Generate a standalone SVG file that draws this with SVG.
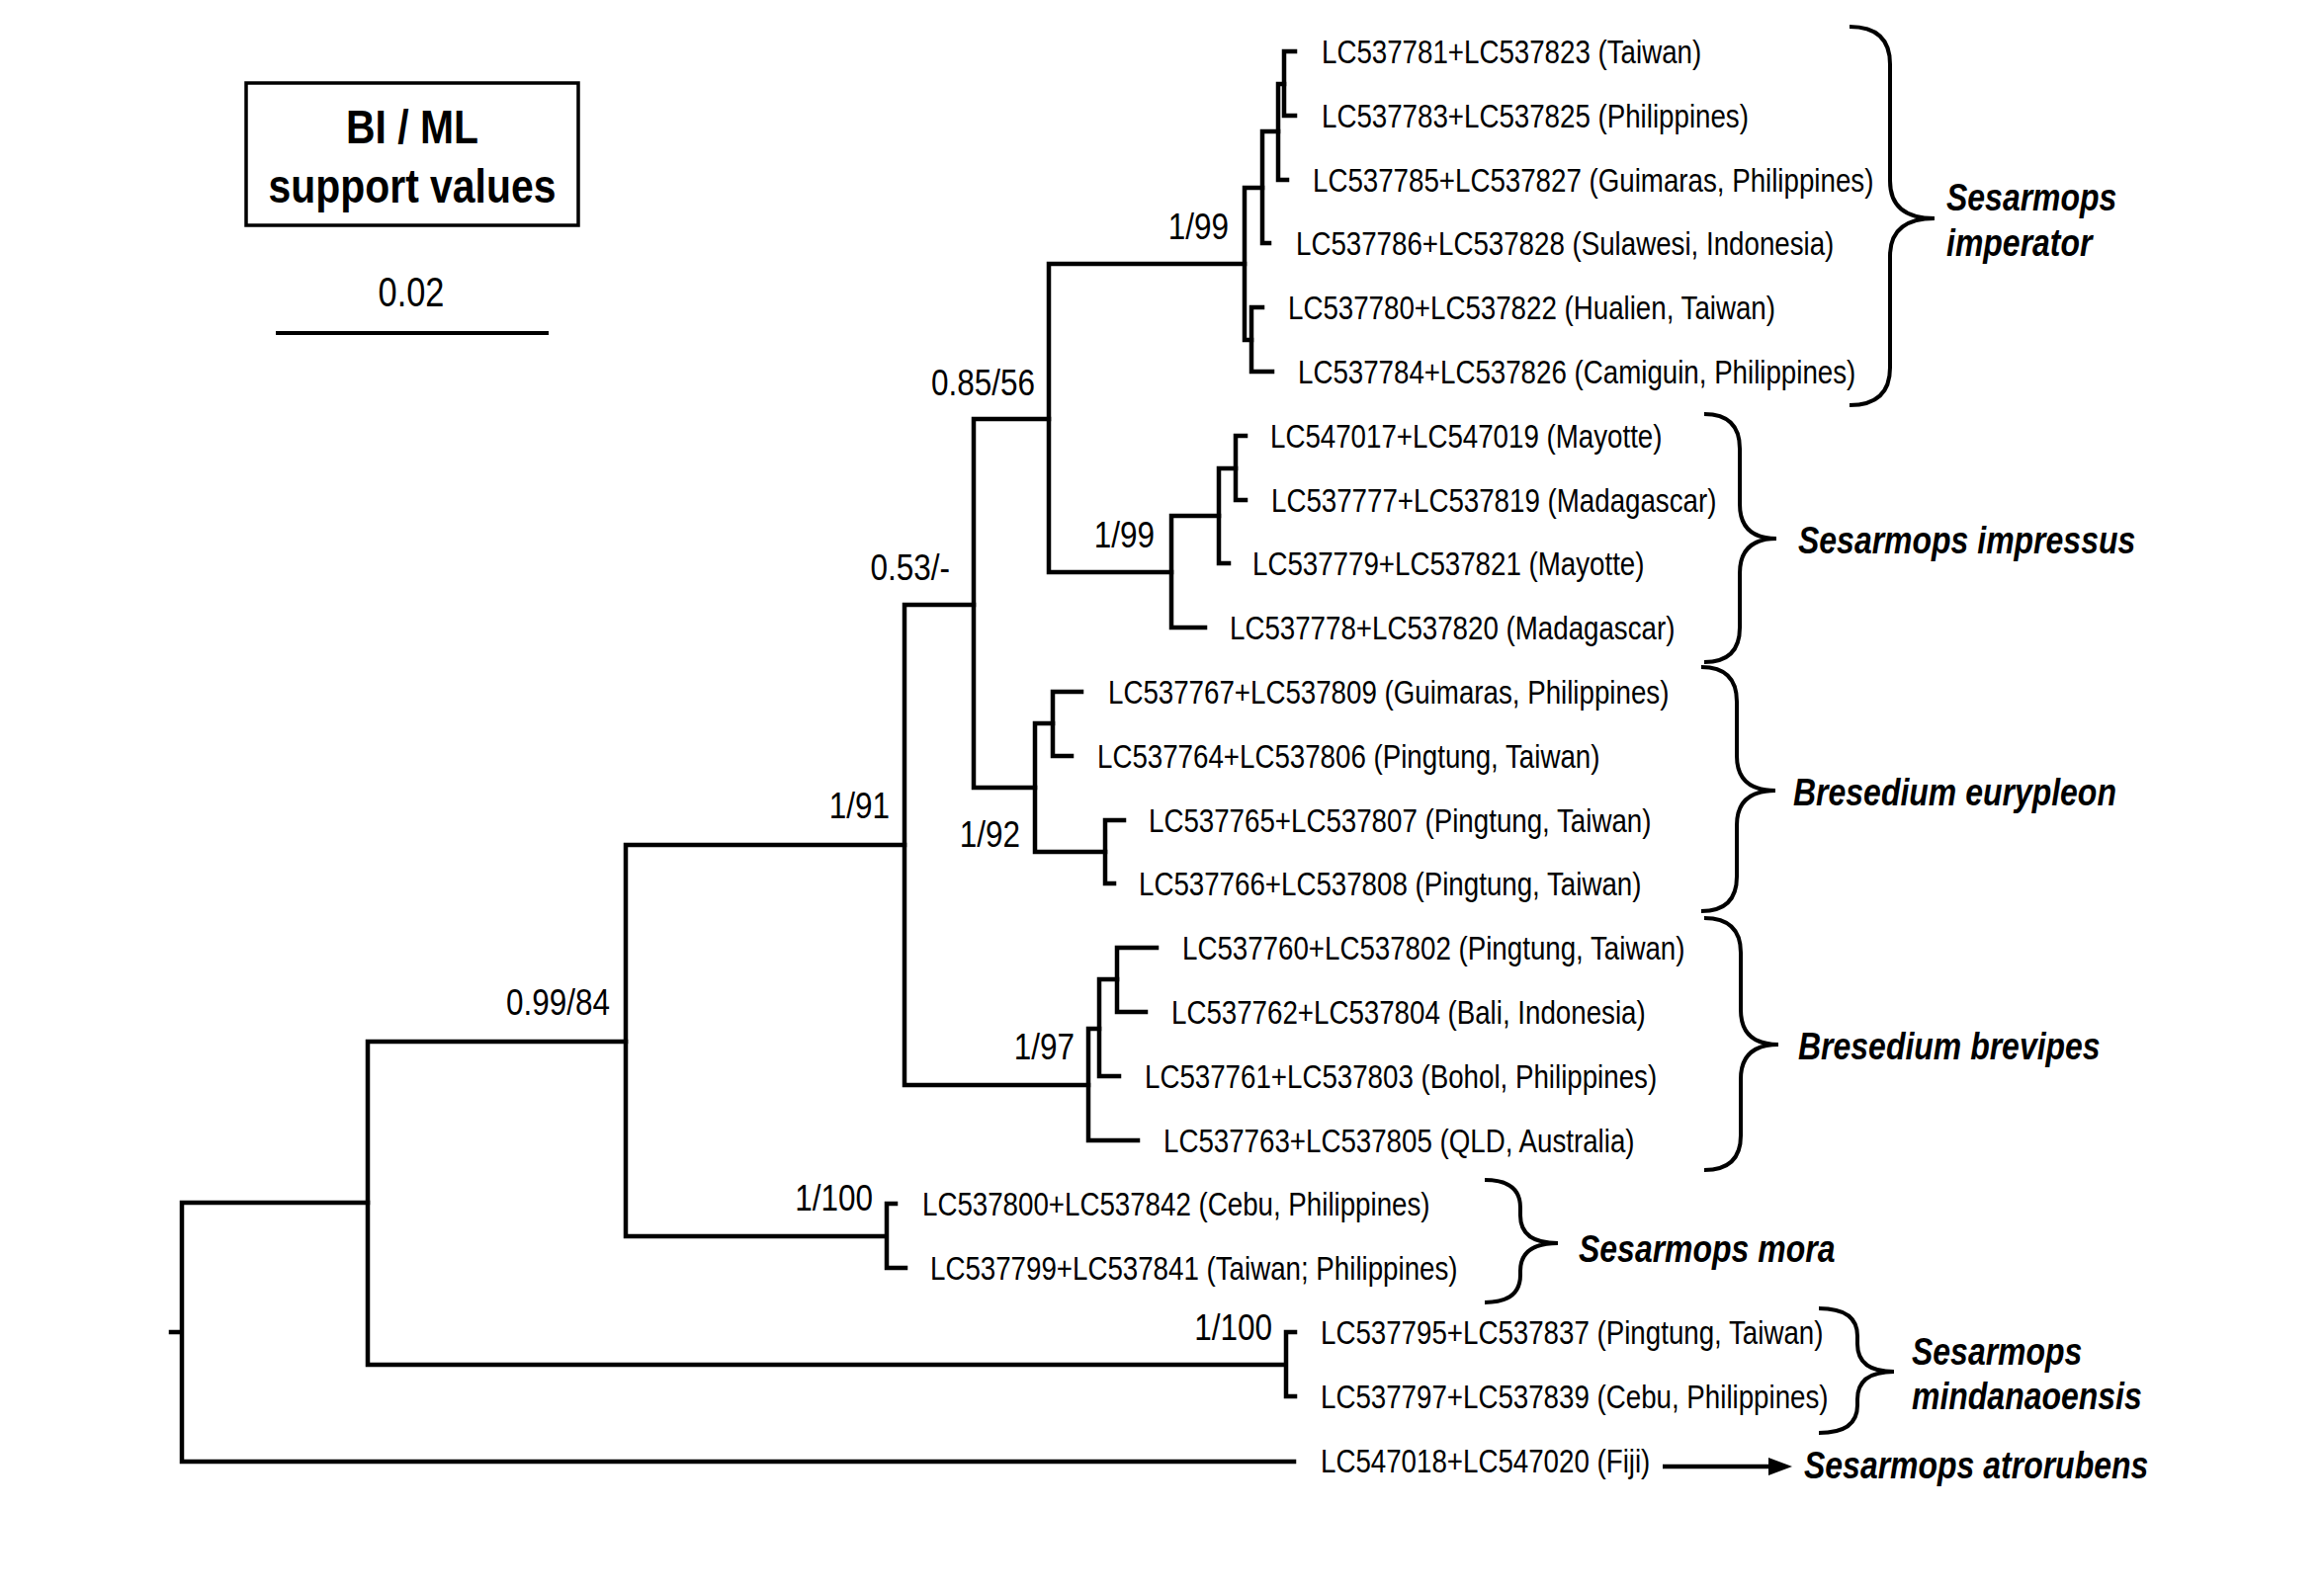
<svg xmlns="http://www.w3.org/2000/svg" width="2351" height="1612" viewBox="0 0 2351 1612">
<style>
text{font-family:"Liberation Sans",Arial,sans-serif;fill:#000}
.tip{font-size:34px}
.sup{font-size:37.5px;text-anchor:end}
.sp{font-size:39px;font-weight:bold;font-style:italic}
.hd{font-size:49px;font-weight:bold;text-anchor:middle}
.sc{font-size:43px;text-anchor:middle}
.br{stroke:#000;stroke-width:4.5;fill:none;stroke-linecap:square;stroke-linejoin:miter}
.bc{stroke:#000;stroke-width:4;fill:none}
</style>
<rect width="2351" height="1612" fill="#fff"/>

<g id="legend">
<rect x="249" y="84" width="336" height="144" fill="none" stroke="#000" stroke-width="3.5"/>
<text class="hd" transform="matrix(0.835 0 0 1 417 145)">BI / ML</text>
<text class="hd" transform="matrix(0.835 0 0 1 417 205)">support values</text>
</g>
<g id="scalebar">
<text class="sc" transform="matrix(0.8 0 0 1 416 310)">0.02</text>
<line x1="279" y1="337" x2="555" y2="337" stroke="#000" stroke-width="4"/>
</g>

<g id="connectors" class="br">
<path d="M173,1348H184M184,1217V1479M184,1217H372M184,1479H1309"/>
<path d="M372,1054V1381M372,1054H633M372,1381H1301M1301,1348V1413M1301,1348H1310M1301,1413H1310"/>
<path d="M633,855V1251M633,855H915M633,1251H897M897,1218V1283M897,1218H906M897,1283H916"/>
<path d="M915,612V1098M915,612H985M915,1098H1101"/>
<path d="M985,424V797M985,424H1061M985,797H1047"/>
<path d="M1061,267V579M1061,267H1259M1061,579H1185"/>
<path d="M1259,190V344M1259,190H1277M1259,344H1266"/>
<path d="M1277,133V246M1277,133H1293M1277,246H1284"/>
<path d="M1293,85V182M1293,85H1299M1293,182H1302"/>
<path d="M1299,52V117M1299,52H1310M1299,117H1310"/>
<path d="M1266,311V376M1266,311H1277M1266,376H1287"/>
<path d="M1185,522V635M1185,522H1233M1185,635H1219"/>
<path d="M1233,474V570M1233,474H1250M1233,570H1243"/>
<path d="M1250,441V506M1250,441H1260M1250,506H1260"/>
<path d="M1047,732V862M1047,732H1065M1047,862H1118"/>
<path d="M1065,700V765M1065,700H1094M1065,765H1084"/>
<path d="M1118,830V894M1118,830H1137M1118,894H1127"/>
<path d="M1101,1041V1154M1101,1041H1112M1101,1154H1151"/>
<path d="M1112,991V1089M1112,991H1130M1112,1089H1132"/>
<path d="M1130,959V1024M1130,959H1170M1130,1024H1159"/>
</g>

<g id="support">
<text class="sup" transform="matrix(0.84 0 0 1 1243 242)">1/99</text>
<text class="sup" transform="matrix(0.84 0 0 1 1047 400)">0.85/56</text>
<text class="sup" transform="matrix(0.84 0 0 1 1168 554)">1/99</text>
<text class="sup" transform="matrix(0.84 0 0 1 961 587)">0.53/-</text>
<text class="sup" transform="matrix(0.84 0 0 1 900 828)">1/91</text>
<text class="sup" transform="matrix(0.84 0 0 1 1032 857)">1/92</text>
<text class="sup" transform="matrix(0.84 0 0 1 617 1027)">0.99/84</text>
<text class="sup" transform="matrix(0.84 0 0 1 1087 1072)">1/97</text>
<text class="sup" transform="matrix(0.84 0 0 1 883 1225)">1/100</text>
<text class="sup" transform="matrix(0.84 0 0 1 1287 1356)">1/100</text>
</g>

<g id="taxa">
<text class="tip" transform="matrix(0.815 0 0 1 1337 64)">LC537781+LC537823 (Taiwan)</text>
<text class="tip" transform="matrix(0.815 0 0 1 1337 129)">LC537783+LC537825 (Philippines)</text>
<text class="tip" transform="matrix(0.815 0 0 1 1328 194)">LC537785+LC537827 (Guimaras, Philippines)</text>
<text class="tip" transform="matrix(0.815 0 0 1 1311 258)">LC537786+LC537828 (Sulawesi, Indonesia)</text>
<text class="tip" transform="matrix(0.815 0 0 1 1303 323)">LC537780+LC537822 (Hualien, Taiwan)</text>
<text class="tip" transform="matrix(0.815 0 0 1 1313 388)">LC537784+LC537826 (Camiguin, Philippines)</text>
<text class="tip" transform="matrix(0.815 0 0 1 1285 453)">LC547017+LC547019 (Mayotte)</text>
<text class="tip" transform="matrix(0.815 0 0 1 1286 518)">LC537777+LC537819 (Madagascar)</text>
<text class="tip" transform="matrix(0.815 0 0 1 1267 582)">LC537779+LC537821 (Mayotte)</text>
<text class="tip" transform="matrix(0.815 0 0 1 1244 647)">LC537778+LC537820 (Madagascar)</text>
<text class="tip" transform="matrix(0.815 0 0 1 1121 712)">LC537767+LC537809 (Guimaras, Philippines)</text>
<text class="tip" transform="matrix(0.815 0 0 1 1110 777)">LC537764+LC537806 (Pingtung, Taiwan)</text>
<text class="tip" transform="matrix(0.815 0 0 1 1162 842)">LC537765+LC537807 (Pingtung, Taiwan)</text>
<text class="tip" transform="matrix(0.815 0 0 1 1152 906)">LC537766+LC537808 (Pingtung, Taiwan)</text>
<text class="tip" transform="matrix(0.815 0 0 1 1196 971)">LC537760+LC537802 (Pingtung, Taiwan)</text>
<text class="tip" transform="matrix(0.815 0 0 1 1185 1036)">LC537762+LC537804 (Bali, Indonesia)</text>
<text class="tip" transform="matrix(0.815 0 0 1 1158 1101)">LC537761+LC537803 (Bohol, Philippines)</text>
<text class="tip" transform="matrix(0.815 0 0 1 1177 1166)">LC537763+LC537805 (QLD, Australia)</text>
<text class="tip" transform="matrix(0.815 0 0 1 933 1230)">LC537800+LC537842 (Cebu, Philippines)</text>
<text class="tip" transform="matrix(0.815 0 0 1 941 1295)">LC537799+LC537841 (Taiwan; Philippines)</text>
<text class="tip" transform="matrix(0.815 0 0 1 1336 1360)">LC537795+LC537837 (Pingtung, Taiwan)</text>
<text class="tip" transform="matrix(0.815 0 0 1 1336 1425)">LC537797+LC537839 (Cebu, Philippines)</text>
<text class="tip" transform="matrix(0.815 0 0 1 1336 1490)">LC547018+LC547020 (Fiji)</text>
</g>

<g id="braces" class="bc">
<path d="M1871,27Q1912,27 1912,65V183Q1912,221 1957,221Q1912,221 1912,259V372Q1912,410 1871,410"/>
<path d="M1724,419Q1760,419 1760,454V510Q1760,545 1797,545Q1760,545 1760,580V635Q1760,670 1724,670"/>
<path d="M1721,675Q1757,675 1757,710V765Q1757,800 1796,800Q1757,800 1757,835V887Q1757,922 1721,922"/>
<path d="M1724,929Q1761,929 1761,964V1022Q1761,1057 1799,1057Q1761,1057 1761,1092V1149Q1761,1184 1724,1184"/>
<path d="M1502,1194Q1538,1194 1538,1222V1230Q1538,1258 1576,1258Q1538,1258 1538,1286V1290Q1538,1318 1502,1318"/>
<path d="M1840,1324Q1879,1324 1879,1352V1360Q1879,1388 1916,1388Q1879,1388 1879,1416V1422Q1879,1450 1840,1450"/>
</g>

<g id="arrow">
<line x1="1682" y1="1484" x2="1793" y2="1484" stroke="#000" stroke-width="4.5"/>
<polygon points="1813,1484 1789,1475 1789,1493" fill="#000"/>
</g>

<g id="species">
<text class="sp" transform="matrix(0.82 0 0 1 1969 213)">Sesarmops</text>
<text class="sp" transform="matrix(0.82 0 0 1 1969 259)">imperator</text>
<text class="sp" transform="matrix(0.82 0 0 1 1819 560)">Sesarmops impressus</text>
<text class="sp" transform="matrix(0.82 0 0 1 1814 815)">Bresedium eurypleon</text>
<text class="sp" transform="matrix(0.82 0 0 1 1819 1072)">Bresedium brevipes</text>
<text class="sp" transform="matrix(0.82 0 0 1 1597 1277)">Sesarmops mora</text>
<text class="sp" transform="matrix(0.82 0 0 1 1934 1381)">Sesarmops</text>
<text class="sp" transform="matrix(0.82 0 0 1 1934 1426)">mindanaoensis</text>
<text class="sp" transform="matrix(0.82 0 0 1 1825 1496)">Sesarmops atrorubens</text>
</g>
</svg>
